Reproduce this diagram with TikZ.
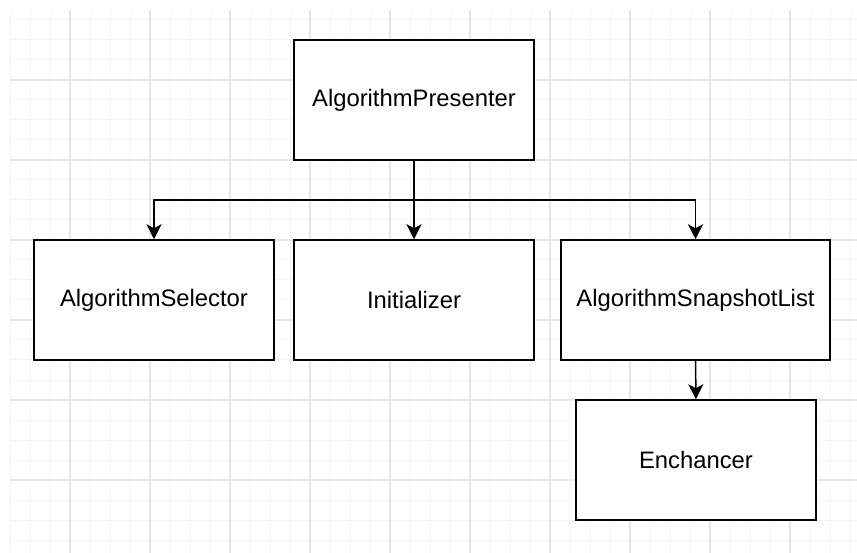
\documentclass[tikz,border=0pt]{standalone}
\usepackage{fontspec}
\setmainfont{Liberation Sans}
\usetikzlibrary{arrows.meta}
\definecolor{gridminor}{HTML}{F4F4F4}
\definecolor{gridmajor}{HTML}{E6E6E6}
\tikzset{
  box/.style={draw=black, line width=1.5pt, fill=white, minimum width=240pt,
    minimum height=120pt, inner sep=0pt, font=\fontsize{23.8}{28}\selectfont},
  link/.style={draw=black, line width=1.5pt,
    -{Stealth[length=15pt,width=15pt,inset=4pt]}},
}
\begin{document}
\begin{tikzpicture}[x=1pt,y=-1pt]
  \useasboundingbox (0,0) rectangle (857,553);
  \fill[white] (0,0) rectangle (857,553);
  % background grid: fine lines every 20pt, heavier lines every 80pt
  \foreach \gx in {10,30,...,850} {
    \draw[gridminor, line width=1pt] (\gx,10) -- (\gx,553);
  }
  \foreach \gy in {20,40,...,550} {
    \draw[gridminor, line width=1pt] (10,\gy) -- (857,\gy);
  }
  \foreach \gx in {70,150,...,850} {
    \draw[gridmajor, line width=1.2pt] (\gx,10) -- (\gx,553);
  }
  \foreach \gy in {80,160,...,550} {
    \draw[gridmajor, line width=1.2pt] (10,\gy) -- (857,\gy);
  }

  % boxes
  \node[box] (presenter) at (414,100) {AlgorithmPresenter};
  \node[box] (selector) at (154,300) {AlgorithmSelector};
  \node[box] (init) at (414,300) {Initializer};
  \node[box, minimum width=269pt] (snapshots) at (695.5,300) {AlgorithmSnapshotList};
  \node[box] (enhancer) at (696,460) {Enchancer};

  % connectors
  \coordinate (split) at (414,200);
  \draw[link] (presenter.south) -- (init.north);
  \draw[link] (split) -| (selector.north);
  \draw[link] (split) -| (snapshots.north);
  \draw[link] (snapshots.south) -- (enhancer.north);
\end{tikzpicture}
\end{document}
